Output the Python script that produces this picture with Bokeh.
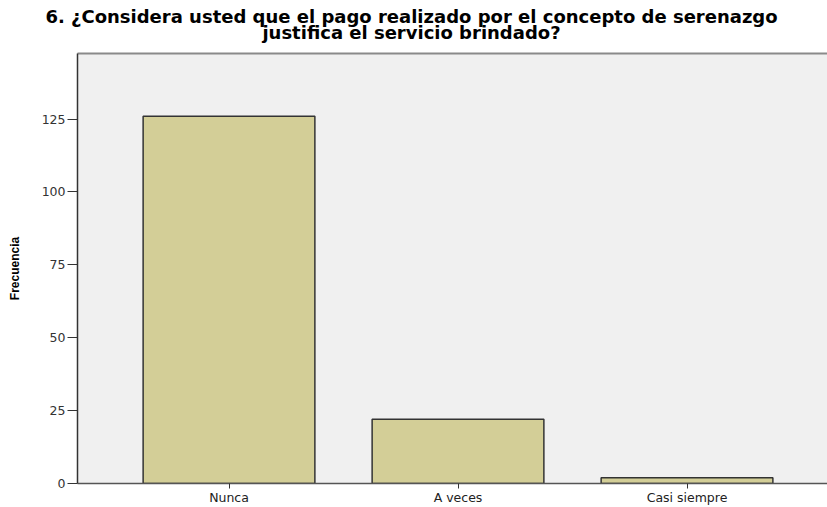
from bokeh.plotting import figure
from bokeh.models import Range1d, FixedTicker, Label, LinearAxis
from bokeh.embed import file_html
from bokeh.resources import INLINE

title_lines = ["6. ¿Considera usted que el pago realizado por el concepto de serenazgo",
               "justifica el servicio brindado?"]
categories = ["Nunca", "A veces", "Casi siempre"]
frequencies = [126, 22, 2]
y_ticks = [0, 25, 50, 75, 100, 125]
y_label = "Frecuencia"

x_pos = list(range(len(categories)))
WIDE = "DejaVu Sans"
NARROW = "Liberation Sans"

p = figure(width=827, height=507, output_backend="svg", toolbar_location=None,
           title=None,
           x_range=Range1d(-0.6616, 2.6135), y_range=Range1d(0, 147.5),
           min_border_left=77, min_border_right=0, min_border_top=53, min_border_bottom=24)

p.background_fill_color = "#f0f0f0"
p.border_fill_color = "white"
p.outline_line_color = None
p.xgrid.grid_line_color = None
p.ygrid.grid_line_color = None

p.vbar(x=x_pos, top=frequencies, width=0.75, bottom=0,
       fill_color="#d3ce97", line_color="#333333", line_width=1.5)

# x axis
xa = p.xaxis[0]
xa.ticker = FixedTicker(ticks=x_pos)
xa.major_label_overrides = {i: c for i, c in zip(x_pos, categories)}
xa.major_label_text_font = WIDE
xa.major_label_text_font_size = "12.5px"
xa.major_label_text_color = "#222222"
xa.major_label_standoff = 1
xa.major_tick_out = 5
xa.major_tick_in = 0
xa.major_tick_line_color = "#333333"
xa.minor_tick_line_color = None
xa.axis_line_color = "#555555"
xa.axis_line_width = 1.5

# y axis
ya = p.yaxis[0]
ya.ticker = FixedTicker(ticks=y_ticks)
ya.major_label_text_font = WIDE
ya.major_label_text_font_size = "12.5px"
ya.major_label_text_color = "#333333"
ya.major_label_standoff = 2
ya.major_tick_out = 10
ya.major_tick_in = 0
ya.major_tick_line_color = "#333333"
ya.minor_tick_line_color = None
ya.axis_line_color = "#333333"
ya.axis_line_width = 1.5
ya.axis_label = y_label
ya.axis_label_text_font = NARROW
ya.axis_label_text_font_size = "12px"
ya.axis_label_text_font_style = "bold"
ya.axis_label_text_color = "#000000"
ya.axis_label_standoff = 17

# top border line of the plot area
top_axis = LinearAxis(ticker=FixedTicker(ticks=[]), major_label_text_font_size="0px",
                      axis_line_color="#8a8a8a", axis_line_width=2,
                      major_tick_line_color=None, minor_tick_line_color=None)
p.add_layout(top_axis, "above")

# title: two centred lines placed in the panels above the plot area
title_y = [37.5, 0]
for line, ty in zip(title_lines, title_y):
    p.add_layout(Label(x=334, y=ty, x_units="screen", y_units="screen",
                       text=line, text_align="center", text_baseline="middle",
                       text_font=WIDE, text_font_size="18px",
                       text_font_style="bold", text_color="#000000"), "above")

open("out.html", "w").write(file_html(p, INLINE))
